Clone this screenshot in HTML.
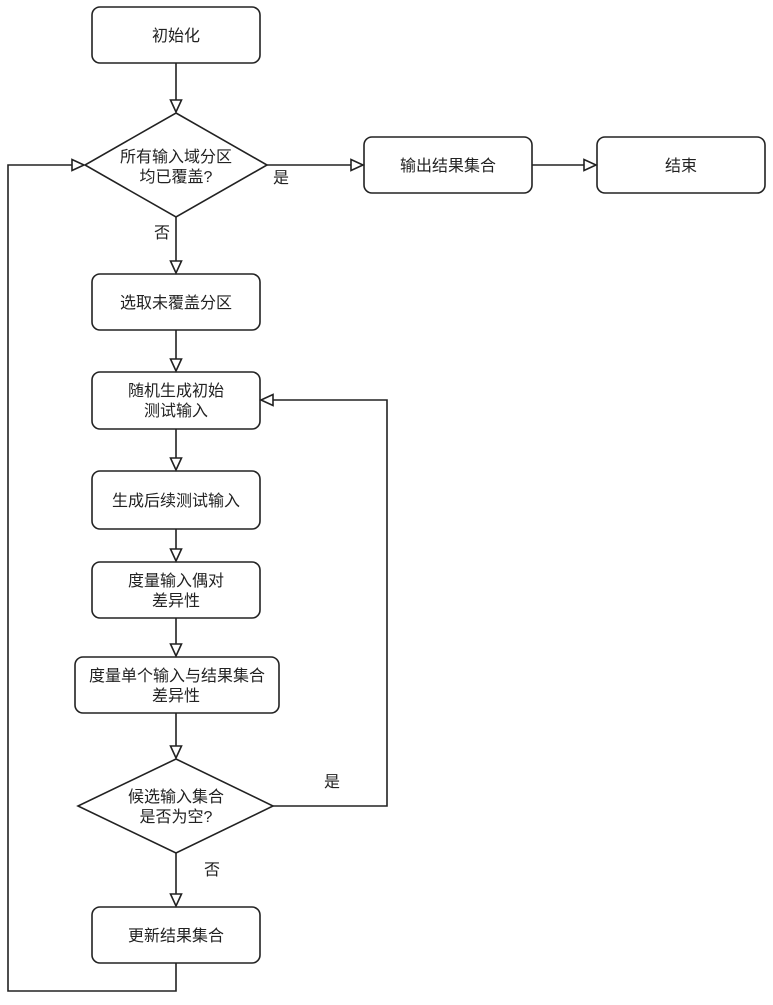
<!DOCTYPE html>
<html><head><meta charset="utf-8"><style>
body{margin:0;background:#fff}
svg text{font-family:"Liberation Sans","Noto Sans CJK SC",sans-serif;font-size:16px;fill:#222;text-anchor:middle}
</style></head><body>
<svg width="773" height="1000" viewBox="0 0 773 1000" xmlns="http://www.w3.org/2000/svg">
<g fill="none" stroke="#222" stroke-width="1.6">
<rect x="92" y="7" width="168" height="56" rx="8"/>
<polygon points="176,113 267,165 176,217 85,165" fill="#fff"/>
<rect x="364" y="137" width="168" height="56" rx="8"/>
<rect x="597" y="137" width="168" height="56" rx="8"/>
<rect x="92" y="274" width="168" height="56" rx="8"/>
<rect x="92" y="372" width="168" height="57" rx="8"/>
<rect x="92" y="471" width="168" height="58" rx="8"/>
<rect x="92" y="562" width="168" height="56" rx="8"/>
<rect x="75" y="657" width="204" height="56" rx="8"/>
<polygon points="176,759 273,806 176,853 78,806" fill="#fff"/>
<rect x="92" y="907" width="168" height="56" rx="8"/>
<path d="M176 63V100"/>
<path d="M176 217V261"/>
<path d="M176 330V359"/>
<path d="M176 429V458"/>
<path d="M176 529V549"/>
<path d="M176 618V644"/>
<path d="M176 713V746"/>
<path d="M176 853V894"/>
<path d="M267 165H351"/>
<path d="M532 165H584"/>
<path d="M273 806H387V400H273"/>
<path d="M176 963V991H8V165H72"/>
<g fill="#fff">
<polygon points="170.5,100 181.5,100 176,112"/>
<polygon points="170.5,261 181.5,261 176,273"/>
<polygon points="170.5,359 181.5,359 176,371"/>
<polygon points="170.5,458 181.5,458 176,470"/>
<polygon points="170.5,549 181.5,549 176,561"/>
<polygon points="170.5,644 181.5,644 176,656"/>
<polygon points="170.5,746 181.5,746 176,758"/>
<polygon points="170.5,894 181.5,894 176,906"/>
<polygon points="351,159.5 351,170.5 363,165"/>
<polygon points="584,159.5 584,170.5 596,165"/>
<polygon points="273,394.5 273,405.5 261,400"/>
<polygon points="72,159.5 72,170.5 84,165"/>
</g>
</g>
<text x="176" y="41">初始化</text>
<text x="176" y="162">所有输入域分区</text>
<text x="176" y="182">均已覆盖?</text>
<text x="281" y="183">是</text>
<text x="162" y="238">否</text>
<text x="448" y="171">输出结果集合</text>
<text x="681" y="171">结束</text>
<text x="176" y="308">选取未覆盖分区</text>
<text x="176" y="396">随机生成初始</text>
<text x="176" y="416">测试输入</text>
<text x="176" y="506">生成后续测试输入</text>
<text x="176" y="586">度量输入偶对</text>
<text x="176" y="606">差异性</text>
<text x="177" y="681">度量单个输入与结果集合</text>
<text x="176" y="701">差异性</text>
<text x="176" y="802">候选输入集合</text>
<text x="176" y="822">是否为空?</text>
<text x="332" y="787">是</text>
<text x="212" y="875">否</text>
<text x="176" y="941">更新结果集合</text>
</svg>
</body></html>
